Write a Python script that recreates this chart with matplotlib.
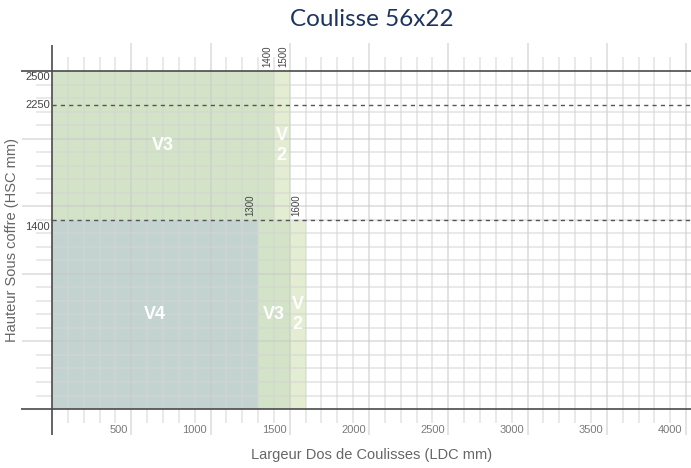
import numpy as np
import matplotlib.pyplot as plt

# zones (HSC ranges) and the widths (LDC) reached by each coulisse type
zone_bounds = [(1400, 2500), (0, 1400)]
zone_names = [["V2", "V3"], ["V2", "V3", "V4"]]
zone_widths = [[1500, 1400], [1600, 1500, 1300]]
type_colors = {"V2": "#e3edd2", "V3": "#d2e3c7", "V4": "#c3d4d0"}
type_labels = {"V2": "V\n2", "V3": "V3", "V4": "V4"}

x_ticks = [500, 1000, 1500, 2000, 2500, 3000, 3500, 4000]
y_marks = [2500, 2250, 1400]
dashed_levels = [2250, 1400]
top_labels = [(1400, 2500), (1500, 2500), (1300, 1400), (1600, 1400)]

xmax = 4000
ymax = 2500

plt.rcParams['font.family'] = ['Liberation Sans', 'DejaVu Sans']
fig = plt.figure(figsize=(6.91, 4.68), dpi=100)
ax = fig.add_axes([0, 0, 1, 1])
ax.set_xlim(-328, 4031)
ax.set_ylim(-436, 3025)
ax.axis('off')

# filled regions, widest first so narrower ones sit on top
for (lo, hi), names, widths in zip(zone_bounds, zone_names, zone_widths):
    for name, w in zip(names, widths):
        ax.bar(0, hi - lo, width=w, bottom=lo, align='edge',
               color=type_colors[name], linewidth=0, zorder=1)
    # labels centred in each visible strip
    left = 0
    for w, name in sorted(zip(widths, names)):
        ax.text((left + w) / 2, (lo + hi) / 2, type_labels[name],
                color='white', fontsize=13, fontweight='bold',
                ha='center', va='center', linespacing=1.25, zorder=5)
        left = w

# grid
gx = np.arange(100, xmax + 1, 100)
major_x = gx[gx % 500 == 0]
minor_x = gx[gx % 500 != 0]
ax.vlines(minor_x, -103, 2603, color='#d4d4d4', alpha=0.65, lw=1.1, zorder=2)
ax.vlines(major_x, -192, 2707, color='#c8c8c8', alpha=0.65, lw=1.1, zorder=2)
gy = np.arange(100, ymax, 100)
major_y = gy[gy % 500 == 0]
minor_y = gy[gy % 500 != 0]
ax.hlines(minor_y, -101, 4031, color='#d4d4d4', alpha=0.65, lw=1.1, zorder=2)
ax.hlines(major_y, -189, 4031, color='#c8c8c8', alpha=0.65, lw=1.1, zorder=2)

# dashed limits
ax.hlines(dashed_levels, 0, 4031, color='#555555', lw=1.0,
          linestyles=(0, (3, 3)), zorder=3)

# axes lines
ax.hlines([0, ymax], -195, 4031, color='#4a4a4a', lw=1.2, zorder=4)
ax.vlines(0, -192, 2692, color='#4a4a4a', lw=1.2, zorder=4)

# tick labels
for v in x_ticks:
    ax.annotate(str(v), xy=(v, 0), xytext=(-2.5, -15), textcoords='offset points',
                ha='right', va='center', fontsize=8, color='#7a7a7a')
for v, dy in zip(y_marks, [-4.3, 0, -5]):
    ax.annotate(str(v), xy=(0, v), xytext=(-1.5, dy), textcoords='offset points',
                ha='right', va='center', fontsize=8, color='#444444')
for (xv, yv), dx in zip(top_labels, [-5, -4.3, -5.8, -6.5]):
    ax.annotate(str(xv), xy=(xv, yv), xytext=(dx, 3), textcoords='offset points',
                ha='center', va='bottom', rotation=90, fontsize=7, color='#444444')

fig.text(372 / 691, 1 - 20 / 468, "Coulisse 56x22", ha='center', va='center',
         fontsize=17.5, color='#1c3560', family=['Lato', 'DejaVu Sans'])
fig.text(372 / 691, 1 - 455 / 468, "Largeur Dos de Coulisses (LDC mm)",
         ha='center', va='center', fontsize=10.5, color='#666666')
fig.text(12 / 691, 1 - 240 / 468, "Hauteur Sous coffre (HSC mm)",
         ha='center', va='center', rotation=90, fontsize=10.5, color='#666666')

fig.savefig('out.png', dpi=100)
